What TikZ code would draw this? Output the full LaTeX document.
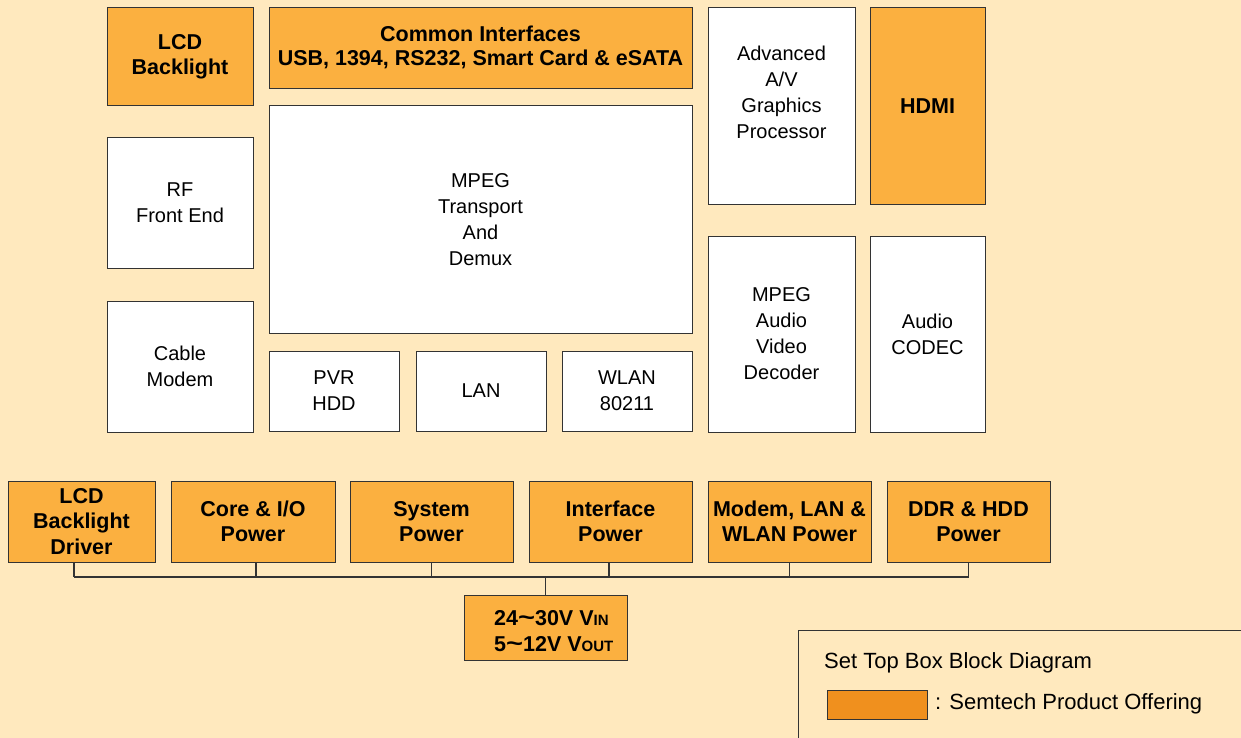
\documentclass[tikz,border=0pt]{standalone}
\usepackage{fontspec}
\setmainfont{Liberation Sans}
\definecolor{bgc}{RGB}{255,233,190}
\definecolor{org}{RGB}{251,176,64}
\definecolor{swc}{RGB}{240,144,30}
\definecolor{edg}{RGB}{51,51,51}
\newcommand{\tld}{\raisebox{0.05ex}{\scalebox{1.35}[1.1]{\textasciitilde}}}
\begin{document}
\begin{tikzpicture}[x=1pt,y=-1pt,
  base/.style={draw=edg, line width=1pt, align=center, inner sep=0pt, outer sep=0pt},
  wbox/.style={base, fill=white, font=\fontsize{20}{26}\selectfont},
  obox/.style={base, fill=org, font=\bfseries\fontsize{21.5}{25.5}\selectfont},
  bus/.style={draw=edg, line width=1.2pt}]
\useasboundingbox (0,0) rectangle (1241,738);
\fill[bgc] (0,0) rectangle (1241,738);
% top area
\node[obox, minimum width=146pt, minimum height=98pt] (lcdbl) at (180,57) {\raisebox{-2pt}{\begin{tabular}{@{}c@{}}LCD\\[-1pt]Backlight\end{tabular}}};
\node[obox, minimum width=423pt, minimum height=81pt] (common) at (480.5,48.5) {\raisebox{-2pt}{\begin{tabular}{@{}c@{}}Common Interfaces\\[-1pt]USB, 1394, RS232, Smart Card \& eSATA\end{tabular}}};
\node[wbox, minimum width=147pt, minimum height=196pt] (adv) at (781.5,106) {};
\node[font=\fontsize{20}{26}\selectfont, align=center] (advt) at (781.5,92) {Advanced\\A/V\\Graphics\\Processor};
\node[obox, minimum width=115pt, minimum height=196pt] (hdmi) at (927.5,106) {HDMI};
\node[wbox, minimum width=146pt, minimum height=130pt] (rf) at (180,203) {RF\\Front End};
\node[wbox, minimum width=423pt, minimum height=227pt] (mpegt) at (480.5,219.5) {MPEG\\Transport\\And\\Demux};
\node[wbox, minimum width=146pt, minimum height=131pt] (cable) at (180,366.5) {Cable\\Modem};
\node[wbox, minimum width=130pt, minimum height=80pt] (pvr) at (334,391) {PVR\\HDD};
\node[wbox, minimum width=130pt, minimum height=80pt] (lan) at (481,391) {LAN};
\node[wbox, minimum width=130pt, minimum height=80pt] (wlan) at (627,391) {WLAN\\80211};
\node[wbox, minimum width=147pt, minimum height=196pt] (mpegd) at (781.5,334) {MPEG\\Audio\\Video\\Decoder};
\node[wbox, minimum width=115pt, minimum height=196pt] (audio) at (927.5,334) {Audio\\CODEC};
% power row
\node[obox, minimum width=147pt, minimum height=81pt] (d1) at (81.5,521.5) {LCD\\Backlight\\Driver};
\node[obox, minimum width=164pt, minimum height=81pt] (d2) at (253,521.5) {Core \& I/O\\Power};
\node[obox, minimum width=163pt, minimum height=81pt] (d3) at (431.5,521.5) {System\\Power};
\node[obox, minimum width=163pt, minimum height=81pt] (d4) at (610.5,521.5) {Interface\\Power};
\node[obox, minimum width=163pt, minimum height=81pt] (d5) at (789.5,521.5) {Modem, LAN \&\\WLAN Power};
\node[obox, minimum width=163pt, minimum height=81pt] (d6) at (968.5,521.5) {DDR \& HDD\\Power};
\node[obox, minimum width=163pt, minimum height=65pt] (vin) at (545.5,627.5) {};
\node[font=\bfseries\fontsize{21.5}{26}\selectfont, align=left, anchor=west, inner sep=0pt] (vint) at (494,631.5)
  {24\tld30V V{\fontsize{15}{15}\selectfont IN}\\5\tld12V V{\fontsize{15}{15}\selectfont OUT}};
% bus
\coordinate (b1) at (74,577);
\coordinate (b6) at (969,577);
\draw[bus] (b1) -- (b6);
\draw[bus] ([xshift=-7.5pt]d1.south) -- ([xshift=-7.5pt]d1.south |- b1);
\draw[bus] ([xshift=3pt]d2.south) -- ([xshift=3pt]d2.south |- b1);
\draw[bus] (d3.south) -- (d3.south |- b1);
\draw[bus] ([xshift=-1.5pt]d4.south) -- ([xshift=-1.5pt]d4.south |- b1);
\draw[bus] (d5.south) -- (d5.south |- b1);
\draw[bus] (d6.south) -- (d6.south |- b1);
\draw[bus] (vin.north) -- (vin.north |- b1);
% legend
\draw[draw=edg, line width=1pt, fill=bgc] (798,630) rectangle (1260,760);
\node[anchor=west, font=\fontsize{22}{26}\selectfont, inner sep=0pt] (legt) at (824,663) {Set Top Box Block Diagram};
\node[draw=edg, line width=1pt, fill=swc, minimum width=100pt, minimum height=29pt, inner sep=0pt] (sw) at (877,704.5) {};
\node[anchor=west, font=\fontsize{22}{26}\selectfont, inner sep=0pt] (legs) at (935,704) {: Semtech Product Offering};
\end{tikzpicture}
\end{document}
